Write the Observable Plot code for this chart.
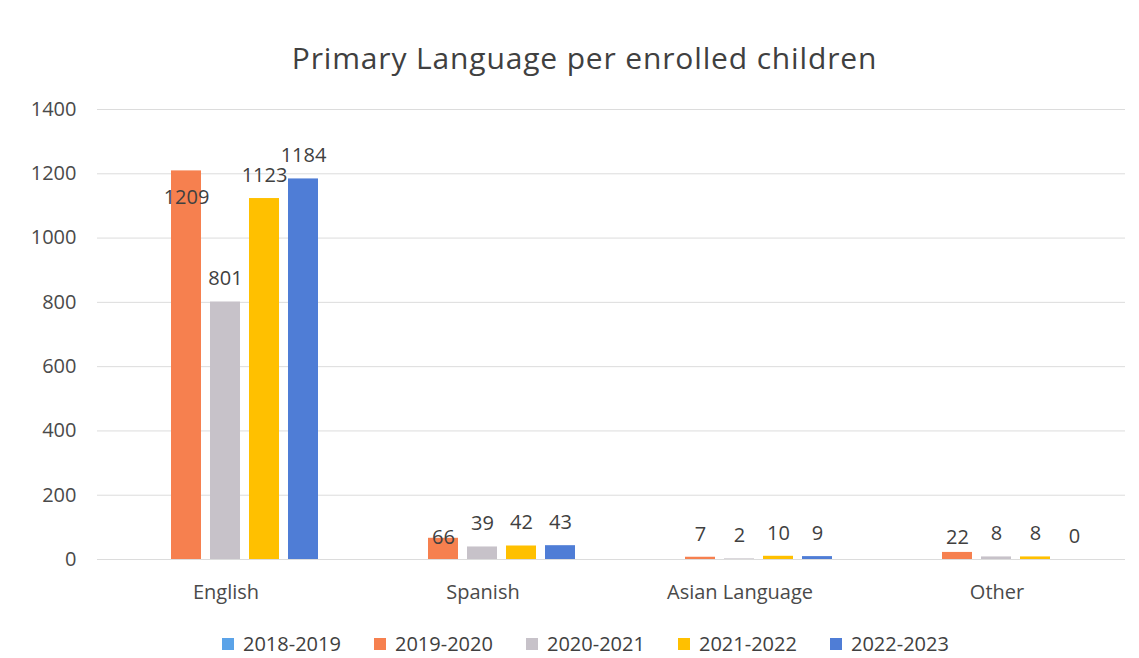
<!DOCTYPE html>
<html>
<head>
<meta charset="utf-8">
<script src="https://cdn.jsdelivr.net/npm/d3@7"></script>
<script src="https://cdn.jsdelivr.net/npm/@observablehq/plot@0.6"></script>
<style>
  html, body { margin: 0; padding: 0; background: #fff; }
  #wrap { position: relative; width: 1139px; height: 658px; overflow: hidden; font-family: "Open Sans", sans-serif; }
  #title { position: absolute; left: 0; width: 1169px; top: 41px; text-align: center; font-size: 30px; line-height: 34px; letter-spacing: 0.85px; color: #404040; }
  #chart { position: absolute; left: 0; top: 0; }
  #legend { position: absolute; left: 222px; top: 632px; display: flex; font-size: 20px; line-height: 24px; color: #404040; }
  #legend .item { width: 152px; display: flex; align-items: center; flex: none; }
  #legend .sw { width: 12px; height: 12px; margin-right: 9px; flex: none; }
</style>
</head>
<body>
<div id="wrap">
  <div id="chart"></div>
  <div id="title">Primary Language per enrolled children</div>
  <div id="legend"></div>
</div>
<script>
const categories = ["English", "Spanish", "Asian Language", "Other"];
const seriesNames = ["2018-2019", "2019-2020", "2020-2021", "2021-2022", "2022-2023"];
const values2018_2019 = [null, null, null, null];
const values2019_2020 = [1209, 66, 7, 22];
const values2020_2021 = [801, 39, 2, 8];
const values2021_2022 = [1123, 42, 10, 8];
const values2022_2023 = [1184, 43, 9, 0];
const yTicks = [0, 200, 400, 600, 800, 1000, 1200, 1400];
const seriesColors = ["#5BA3E8", "#F6804F", "#C7C2C9", "#FFC000", "#4F7DD6"];

const seriesValues = [values2018_2019, values2019_2020, values2020_2021, values2021_2022, values2022_2023];
const rows = [];
seriesNames.forEach((s, si) => {
  categories.forEach((c, ci) => {
    const v = seriesValues[si][ci];
    if (v != null) rows.push({category: c, series: s, value: v});
  });
});

// label placement as in the reference (most sit above the bar; a few were moved)
const labelDy = {"English|2019-2020": 27, "Spanish|2019-2020": -1, "Other|2019-2020": -15};
const dyOf = d => labelDy[d.category + "|" + d.series] ?? -23;
const dyGroups = d3.groups(rows, dyOf);

const chart = Plot.plot({
  width: 1139,
  height: 620,
  marginLeft: 96,
  marginRight: 13,
  marginTop: 109,
  marginBottom: 61,
  style: {fontFamily: "Open Sans, sans-serif", background: "transparent"},
  fx: {domain: categories, padding: 0, label: null},
  x: {domain: seriesNames, paddingInner: 0.225, paddingOuter: 0.83, axis: null},
  y: {domain: [0, 1400], label: null},
  color: {domain: seriesNames, range: seriesColors},
  marks: [
    Plot.gridY(yTicks, {stroke: "#dcdcdc", strokeOpacity: 1, strokeWidth: 1}),
    Plot.axisY({ticks: yTicks, tickSize: 0, tickPadding: 21, fontSize: 20, label: null, color: "#4a4a4a", tickFormat: d => String(d)}),
    Plot.axisFx({anchor: "bottom", tickSize: 0, tickPadding: 25, fontSize: 20, label: null, color: "#4a4a4a"}),
    Plot.barY(rows, {fx: "category", x: "series", y: "value", fill: "series"}),
    ...dyGroups.map(([dy, g]) =>
      Plot.text(g, {fx: "category", x: "series", y: "value", text: d => String(d.value), dy, fontSize: 20, fill: "#404040"})
    )
  ]
});
document.getElementById("chart").appendChild(chart);

const legend = document.getElementById("legend");
seriesNames.forEach((s, i) => {
  const item = document.createElement("div");
  item.className = "item";
  const sw = document.createElement("span");
  sw.className = "sw";
  sw.style.background = seriesColors[i];
  const t = document.createElement("span");
  t.textContent = s;
  item.appendChild(sw);
  item.appendChild(t);
  legend.appendChild(item);
});
</script>
</body>
</html>
